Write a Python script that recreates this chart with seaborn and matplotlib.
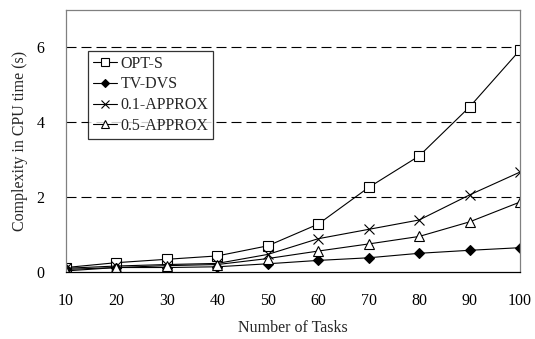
import matplotlib
matplotlib.use("Agg")
import matplotlib.pyplot as plt
import seaborn as sns
import pandas as pd

tasks = [10, 20, 30, 40, 50, 60, 70, 80, 90, 100]
opt_s = [0.12, 0.25, 0.34, 0.43, 0.70, 1.28, 2.26, 3.10, 4.41, 5.93]
tv_dvs = [0.07, 0.12, 0.12, 0.14, 0.22, 0.31, 0.38, 0.50, 0.58, 0.65]
approx_01 = [0.10, 0.16, 0.20, 0.23, 0.47, 0.89, 1.14, 1.39, 2.06, 2.67]
approx_05 = [0.03, 0.12, 0.17, 0.20, 0.36, 0.56, 0.75, 0.95, 1.34, 1.87]
series_names = ["OPT-S", "TV-DVS", "0.1-APPROX", "0.5-APPROX"]
y_ticks = [0, 2, 4, 6]

sns.set_theme(style="white")
plt.rcParams['font.family'] = ['Liberation Serif', 'DejaVu Serif']

frames = []
for name, vals in zip(series_names, [opt_s, tv_dvs, approx_01, approx_05]):
    frames.append(pd.DataFrame({"tasks": tasks, "value": vals, "series": name}))
df = pd.concat(frames, ignore_index=True)

fig = plt.figure(figsize=(5.35, 3.39), dpi=100)
ax = fig.add_axes([0.1234, 0.1976, 0.8486, 0.7729])

styles = {
    "OPT-S": dict(marker="s", mfc="white", ms=6.5),
    "TV-DVS": dict(marker="D", mfc="black", ms=5),
    "0.1-APPROX": dict(marker="x", mfc="black", ms=7),
    "0.5-APPROX": dict(marker="^", mfc="white", ms=6.5),
}
for name in series_names:
    st = styles[name]
    sns.lineplot(data=df[df.series == name], x="tasks", y="value", ax=ax,
                 color="black", linewidth=0.8, marker=st["marker"],
                 markersize=st["ms"], markerfacecolor=st["mfc"],
                 markeredgecolor="black", markeredgewidth=0.8, label=name)

for y in y_ticks[1:]:
    ax.axhline(y, color="black", linestyle=(0, (9, 4.5)), linewidth=0.8, zorder=0)

ax.set_xlim(10, 100)
ax.set_ylim(0, 7)
ax.set_xticks(tasks)
ax.set_yticks(y_ticks)
ax.tick_params(axis="x", direction="in", length=5, pad=15, labelsize=11.5, colors="black")
ax.tick_params(axis="y", direction="out", length=3, pad=12.5, labelsize=11.5, colors="black")
for side in ["top", "right", "left"]:
    ax.spines[side].set_color("#808080")
    ax.spines[side].set_linewidth(0.9)
ax.spines["bottom"].set_color("black")
ax.spines["bottom"].set_linewidth(0.9)

ax.set_xlabel("Number of Tasks", fontsize=11.5, labelpad=8)
ax.set_ylabel("Complexity in CPU time (s)", fontsize=11.5, labelpad=6)

leg = ax.legend(loc="upper left", bbox_to_anchor=(0.048, 0.844), borderaxespad=0,
                frameon=True, fancybox=False, fontsize=11.5, handlelength=1.5,
                handletextpad=0.25, labelspacing=0.3, borderpad=0.3, markerscale=0.8)
leg.get_frame().set_edgecolor("black")
leg.get_frame().set_linewidth(0.9)

fig.savefig("out.png", dpi=100)
